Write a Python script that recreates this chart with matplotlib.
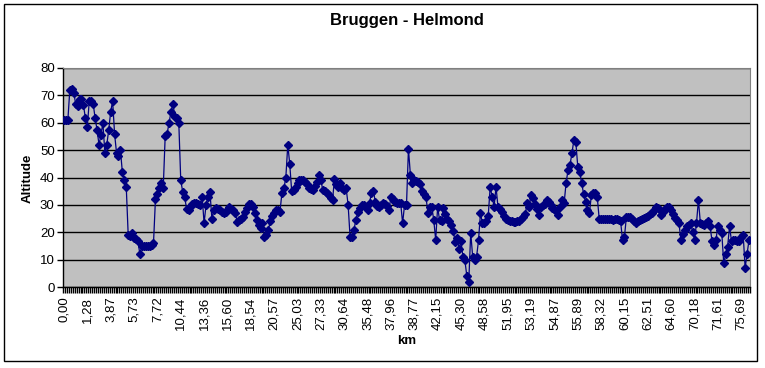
import matplotlib
matplotlib.use("Agg")
import matplotlib.pyplot as plt
from matplotlib.patches import Rectangle
from matplotlib.ticker import FixedLocator, MultipleLocator

plt.rcParams['font.family'] = ['Liberation Sans', 'DejaVu Sans']

title = "Bruggen - Helmond"
x_label = "km"
y_label = "Altitude"

tick_labels = ["0,00", "1,28", "3,87", "5,73", "7,72", "10,44", "13,36", "15,60",
               "18,54", "20,57", "25,03", "27,33", "30,64", "35,48", "37,96", "38,77",
               "42,15", "45,30", "48,58", "51,95", "53,19", "54,87", "55,89", "58,32",
               "60,15", "62,51", "64,60", "70,18", "71,61", "75,69"]
label_every = 12

altitude = [
    61, 61, 61, 72, 72.5, 71, 67, 66, 68.5, 68.5, 66.5, 61.7,
    58.6, 68, 68, 67, 61.7, 57.4, 52, 55.5, 60, 49, 52, 57.4,
    64, 68, 56, 49, 48, 50, 42, 39, 36.6, 19, 18.5, 19.7,
    18, 17.5, 16.7, 12, 15, 15, 15, 15, 15, 15.3, 16, 32,
    34, 36, 38, 36, 55, 56, 60, 64, 67, 62, 61.7, 60,
    39, 34.8, 33, 28.5, 28, 29.3, 30.5, 30.7, 30.7, 30.3, 30, 33,
    23.3, 30, 33, 34.8, 25, 28, 28.9, 28.5, 28, 27.5, 27, 27.5,
    28, 29.3, 28.5, 28, 27, 23.9, 24.3, 25, 25.7, 27.5, 29, 30.5,
    30.5, 29.3, 27, 24.3, 22.6, 21.5, 23.3, 18.4, 19, 20.8, 24, 26,
    27, 28, 28, 27.5, 34.5, 36, 40, 52, 45, 35, 35.4, 36.6,
    38, 39, 39, 39, 38.3, 37.5, 36.2, 35.8, 35.4, 37, 38.5, 40.9,
    39, 35.4, 35, 34.5, 33.5, 32.5, 31.8, 39.5, 37.5, 36.6, 37.9, 36,
    35.5, 36, 30, 18.4, 18.4, 21, 24.5, 27.5, 29, 29.8, 30, 29.3,
    28, 30.7, 34.5, 35, 31, 29.5, 29.3, 30, 30.7, 30.3, 29.5, 28,
    33, 32, 31, 30.7, 30.7, 30.7, 23.3, 30, 30, 50.5, 41, 38,
    39, 38.7, 38.4, 37.5, 35, 34, 33, 27, 29.3, 29.3, 24.5, 17.2,
    29.3, 24.3, 24, 29, 26.5, 25, 24, 22.6, 20.5, 16.5, 18, 14,
    16.7, 11, 9.7, 4, 2, 19.9, 11, 9.7, 11, 17, 27, 23.3,
    23.3, 24, 26, 36.6, 33, 29.3, 36.6, 29.3, 28.5, 27.4, 26, 25,
    24.3, 24, 24, 23.9, 23.9, 24, 24.2, 24.8, 25.5, 26.5, 30.7, 29.3,
    33.6, 32.4, 30.5, 28.5, 26.3, 29.3, 29.8, 30.3, 31.8, 31, 30, 29,
    28.5, 27.8, 26.3, 29.3, 31.8, 30.7, 38, 42.7, 44.6, 48.8, 53.7, 53,
    44, 42, 38, 34, 31, 28, 27, 33.6, 34.3, 34.3, 33, 25,
    25, 24.7, 24.7, 24.7, 24.8, 24.7, 24.6, 24.7, 24.7, 24.5, 24, 17.2,
    18.4, 25.7, 25.7, 25.5, 25, 24, 23.3, 24, 24.5, 25, 25.3, 25.7,
    26, 26.5, 27, 28, 29.3, 28.8, 28, 26.3, 27.5, 28.5, 29.3, 29.3,
    28, 26.5, 25.3, 24.3, 23.3, 17.2, 19.5, 21, 22.2, 22.8, 23.3, 20.2,
    17.2, 23.3, 31.8, 23.3, 23, 22.6, 23.5, 24, 22.2, 16.7, 15.5, 17.2,
    22.2, 20.8, 19.7, 8.7, 12, 14.7, 22.2, 16.7, 17.2, 17, 16.7, 16.7,
    18.4, 19, 7, 12, 17.2,
]

W, H = 765, 368
fig = plt.figure(figsize=(W / 100, H / 100), dpi=100)
fig.patch.set_facecolor("white")

# outer chart border
fig.add_artist(Rectangle((4 / W, 1 - 361 / H), 753 / W, 357 / H, transform=fig.transFigure,
                         fill=False, edgecolor="black", linewidth=1.0))

left, right, top, bottom = 63, 750, 68, 287
ax = fig.add_axes([left / W, 1 - bottom / H, (right - left) / W, (bottom - top) / H])
ax.set_facecolor("#C0C0C0")

n = len(altitude)
xs = list(range(n))
ax.plot(xs, altitude, color="#000080", linewidth=0.9, marker="D", markersize=4.0,
        markerfacecolor="#000080", markeredgecolor="#000080", zorder=3)

ax.set_xlim(-0.5, n - 0.5)
ax.set_ylim(0, 80)
ax.yaxis.set_major_locator(MultipleLocator(10))
ax.grid(axis="y", color="black", linewidth=1.0)
ax.set_axisbelow(True)

label_pos = [i * label_every for i in range(len(tick_labels))]
ax.xaxis.set_major_locator(FixedLocator(label_pos))
ax.set_xticklabels(tick_labels, rotation=90, fontsize=9.5)
ax.xaxis.set_minor_locator(FixedLocator([i + 0.5 for i in range(-1, n)]))
ax.tick_params(axis="x", which="major", length=0, pad=7)
ax.tick_params(axis="x", which="minor", length=4, width=1, color="black", direction="out")
ax.tick_params(axis="y", length=4, width=1, direction="out", labelsize=9.5, pad=2)

for s in ["top", "right"]:
    ax.spines[s].set_color("#808080")
for s in ["left", "bottom"]:
    ax.spines[s].set_color("black")
    ax.spines[s].set_linewidth(1.0)

fig.text(407 / W, 1 - 21 / H, title, ha="center", va="center", fontsize=12, fontweight="bold")
fig.text(407 / W, 1 - 341 / H, x_label, ha="center", va="center", fontsize=9.5, fontweight="bold")
fig.text(28 / W, 1 - 178 / H, y_label, ha="center", va="center", rotation=90,
         fontsize=9.5, fontweight="bold")

fig.savefig("out.png", dpi=100)
